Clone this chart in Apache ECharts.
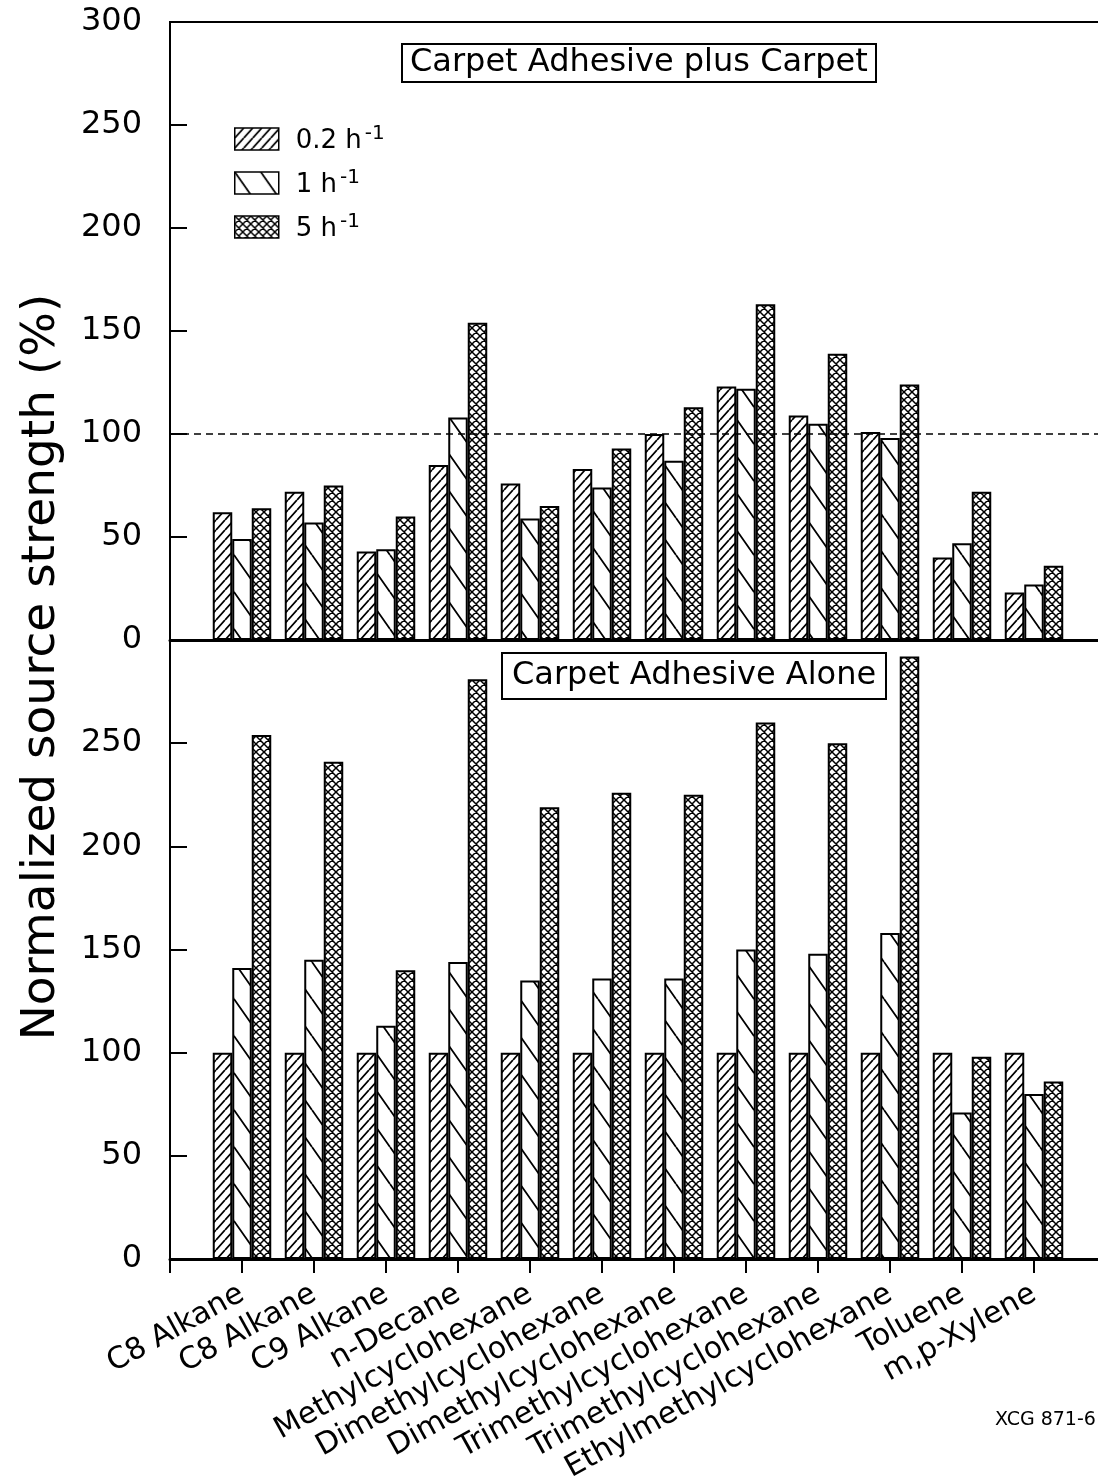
<!DOCTYPE html>
<html>
<head>
<meta charset="utf-8">
<script src="https://cdn.jsdelivr.net/npm/echarts@6/dist/echarts.min.js"></script>
<style>
html,body{margin:0;padding:0;background:#fff;}
#chart{width:1098px;height:1476px;}
</style>
</head>
<body>
<div id="chart"></div>
<script>
// ---- data ----
var categories = ['C8 Alkane','C8 Alkane','C9 Alkane','n-Decane','Methylcyclohexane','Dimethylcyclohexane','Dimethylcyclohexane','Trimethylcyclohexane','Trimethylcyclohexane','Ethylmethylcyclohexane','Toluene','m,p-Xylene'];
var seriesNames = ['0.2','1','5'];
var plus02 = [62,72,43,85,76,83,100,123,109,101,40,23];
var plus1  = [49,57,44,108,59,74,87,122,105,98,47,27];
var plus5  = [64,75,60,154,65,93,113,163,139,124,72,36];
var alone02 = [100,100,100,100,100,100,100,100,100,100,100,100];
var alone1  = [141,145,113,144,135,136,136,150,148,158,71,80];
var alone5  = [254,241,140,281,219,226,225,260,250,292,98,86];
var yTicks = [0,50,100,150,200,250,300];
var refLine = 100;
var panelTitles = ['Carpet Adhesive plus Carpet','Carpet Adhesive Alone'];
var yTitle = 'Normalized source strength (%)';
var figCode = 'XCG 871-6';

// ---- patterns ----
function tile(w,h,lw,draw){
  var c=document.createElement('canvas');c.width=w;c.height=h;
  var ctx=c.getContext('2d');ctx.fillStyle='#fff';ctx.fillRect(0,0,w,h);
  ctx.strokeStyle='#000';ctx.lineWidth=lw;ctx.beginPath();draw(ctx,w,h);ctx.stroke();
  return c;
}
var pFwd = tile(9,10,1.8,function(ctx,w,h){for(var k=-1;k<=1;k++){ctx.moveTo(k*w,h);ctx.lineTo(k*w+w,0);}});
var pBack = tile(26,37,1.8,function(ctx,w,h){for(var k=-1;k<=1;k++){ctx.moveTo(k*w,0);ctx.lineTo(k*w+w,h);}});
var pCross = tile(8,8,1.5,function(ctx,w,h){for(var k=-1;k<=1;k++){ctx.moveTo(k*w,h);ctx.lineTo(k*w+w,0);ctx.moveTo(k*w,0);ctx.lineTo(k*w+w,h);}});
var patterns = [pFwd,pBack,pCross];

var FONT = 'DejaVu Sans';
var xData = [''].concat(categories).concat(['']);
function pad(arr){return ['-'].concat(arr).concat(['-']);}

function barSeries(name,data,idx,gi){
  return {
    name:name,type:'bar',xAxisIndex:gi,yAxisIndex:gi,data:pad(data),
    barWidth:19.5,barGap:'0%',
    itemStyle:{color:{image:patterns[idx],repeat:'repeat'},borderColor:'#000',borderWidth:2},
    emphasis:{disabled:true},animation:false
  };
}
var series = [
  barSeries(seriesNames[0],plus02,0,0),
  barSeries(seriesNames[1],plus1,1,0),
  barSeries(seriesNames[2],plus5,2,0),
  barSeries(seriesNames[0],alone02,0,1),
  barSeries(seriesNames[1],alone1,1,1),
  barSeries(seriesNames[2],alone5,2,1)
];
series[2].markLine = {silent:true,symbol:['none','none'],label:{show:false},
  lineStyle:{color:'#000',type:[7,5],width:1.6},data:[{yAxis:refLine}],animation:false};

function yAxis(gi){
  return {type:'value',gridIndex:gi,min:yTicks[0],max:yTicks[yTicks.length-1],interval:50,
    splitLine:{show:false},
    axisLine:{show:true,lineStyle:{color:'#000',width:2}},
    axisTick:{show:true,inside:true,length:17,lineStyle:{color:'#000',width:2}},
    axisLabel:{color:'#000',fontFamily:FONT,fontSize:32,margin:28,
      formatter:function(v){ if(gi===1 && v===300) return ''; return String(v);} }
  };
}
function xAxis(gi){
  var a = {type:'category',gridIndex:gi,data:xData,boundaryGap:false,
    axisLine:{show:true,lineStyle:{color:'#000',width:3}},
    splitLine:{show:false}};
  if(gi===0){
    a.axisTick={show:false};a.axisLabel={show:false};
  } else {
    a.axisTick={show:true,inside:false,length:14,interval:0,lineStyle:{color:'#000',width:2}};
    a.axisLabel={show:true,interval:0,rotate:29,margin:33,color:'#000',fontFamily:FONT,fontSize:30};
  }
  return a;
}

var chart = echarts.init(document.getElementById('chart'),null,{renderer:'canvas'});
chart.setOption({
  backgroundColor:'#fff',
  animation:false,
  title:[
    {text:panelTitles[0],left:402,top:44,padding:[3,8,3,8],borderColor:'#000',borderWidth:2,
      textStyle:{fontFamily:FONT,fontSize:32,fontWeight:'normal',color:'#000',lineHeight:32}},
    {text:panelTitles[1],left:502,top:653,padding:[7,10,7,10],borderColor:'#000',borderWidth:2,
      textStyle:{fontFamily:FONT,fontSize:32,fontWeight:'normal',color:'#000',lineHeight:32}}
  ],
  legend:{
    data:seriesNames,orient:'vertical',left:229,top:119,itemWidth:44,itemHeight:22,itemGap:14,
    icon:'rect',selectedMode:false,
    itemStyle:{borderColor:'#000',borderWidth:1.5},
    formatter:function(n){return '{a|'+n+' h}{s|-1}';},
    textStyle:{color:'#000',fontFamily:FONT,lineHeight:30,
      rich:{
        a:{fontSize:26,fontFamily:FONT,color:'#000',verticalAlign:'bottom',padding:[0,0,0,12],lineHeight:30},
        s:{fontSize:20,fontFamily:FONT,color:'#000',verticalAlign:'top',padding:[0,0,0,3],lineHeight:30}
      }}
  },
  grid:[
    {left:170,top:22,width:936,height:618,outerBoundsMode:'none',containLabel:false,show:true,borderColor:'#000',borderWidth:2,backgroundColor:'transparent'},
    {left:170,top:640,width:936,height:619,outerBoundsMode:'none',containLabel:false,show:false}
  ],
  xAxis:[xAxis(0),xAxis(1)],
  yAxis:[yAxis(0),yAxis(1)],
  series:series,
  graphic:[
    {type:'text',x:42,y:667,rotation:Math.PI/2,silent:true,
      style:{text:yTitle,fontFamily:FONT,fontSize:47,fill:'#000',align:'center',verticalAlign:'middle'}},
    {type:'text',left:995,top:1411,silent:true,
      style:{text:figCode,fontFamily:FONT,fontSize:19,fill:'#000'}}
  ]
});
</script>
</body>
</html>
